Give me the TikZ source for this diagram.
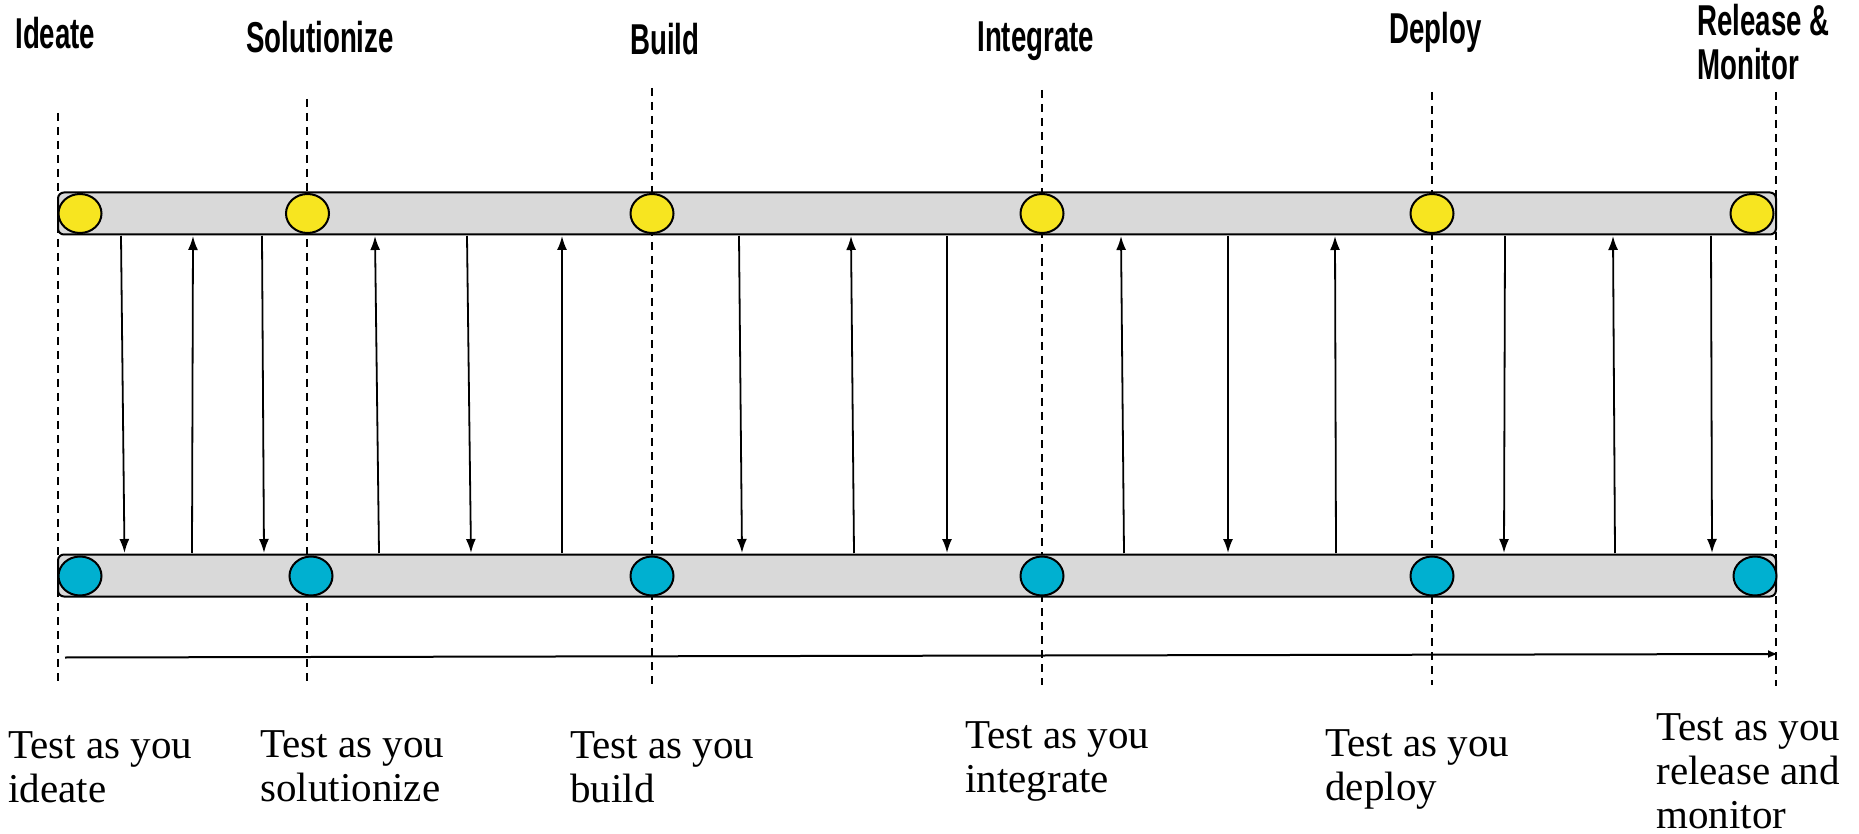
\documentclass[tikz,border=0pt]{standalone}
\usepackage{fontspec}
\usepackage{tikz}
\usetikzlibrary{arrows.meta,shapes.geometric}

\setmainfont{Liberation Serif}
\newfontfamily\phasefont[FakeStretch=0.64]{Liberation Sans}

\definecolor{ideayellow}{HTML}{F7E520}
\definecolor{testblue}{HTML}{00B0D0}
\definecolor{lanegray}{HTML}{D9D9D9}

\tikzset{
	phase/.style={font=\phasefont\bfseries\fontsize{21.6}{22}\selectfont,
		anchor=base west, inner sep=0pt, align=left},
	testnote/.style={font=\fontsize{20.5}{22}\selectfont,
		anchor=base west, inner sep=0pt, align=left},
	lane/.style={draw, line width=1pt, fill=lanegray, rounded corners=3pt,
		minimum width=859pt, minimum height=21pt, inner sep=0pt},
	gate/.style={ellipse, draw, line width=1pt, minimum width=21.5pt,
		minimum height=19.5pt, inner sep=0pt},
	milestone/.style={line width=0.7pt, dash pattern=on 4pt off 3pt},
	handoff/.style={line width=0.9pt, -{Latex[length=7pt,width=5pt]}}
}

\begin{document}
\begin{tikzpicture}[x=0.5pt,y=-0.5pt]
		\useasboundingbox (0,0) rectangle (1859,834);

		% phase boundaries
		\foreach \x / \top / \bot in
		{58/113/682, 307/99/684, 652/88/685, 1042/90/685, 1432/92/685, 1776/92/686}
			\draw[milestone] (\x,\top) -- (\x,\bot);

		\node[lane] (idealane) at (917,213.5) {};
		\node[lane] (testlane) at (917,575.5) {};

		\foreach \n / \xt / \xb in
		{1/80/80, 2/307.5/311, 3/652/652, 4/1042/1042, 5/1432/1432, 6/1752/1755}
		{
			\node[gate, fill=ideayellow] (idea\n) at (\xt,213.5) {};
			\node[gate, fill=testblue] (test\n) at (\xb,576) {};
		}

		% feedback between the two lanes
		\foreach \xt / \xb [count=\i] in
		{121/124.5, 193/192, 262/264, 375/379, 467/471, 562/562, 739/742,
		851/854, 947/947, 1121/1124, 1228/1228, 1335/1336, 1505/1504,
		1613/1615, 1711/1712}
		{
			\coordinate (up\i) at (\xt,236);
			\coordinate (dn\i) at (\xb,553);
			\ifodd\i
				\draw[handoff] (up\i) -- (dn\i);
			\else
				\draw[handoff] (dn\i) -- (up\i);
			\fi
		}

		\coordinate (start) at (65,657.5);
		\coordinate (finish) at (1778,654);
		\draw[line width=1pt, -{Latex[length=5pt,width=4pt]}] (start) -- (finish);

		% base anchor sits on the last line
		\node[phase] (ideate) at (15,49) {Ideate};
		\node[phase] (solutionize) at (246,53) {Solutionize};
		\node[phase] (build) at (630,55) {Build};
		\node[phase] (integrate) at (977,52) {Integrate};
		\node[phase] (deploy) at (1389,44) {Deploy};
		\node[phase] (release) at (1697,80) {Release \&\\Monitor};

		\node[testnote] (test-ideate) at (8,802) {Test as you\\ideate};
		\node[testnote] (test-solutionize) at (260,801) {Test as you\\solutionize};
		\node[testnote] (test-build) at (570,802) {Test as you\\build};
		\node[testnote] (test-integrate) at (965,792) {Test as you\\integrate};
		\node[testnote] (test-deploy) at (1325,800) {Test as you\\deploy};
		\node[testnote] (test-release) at (1656,828) {Test as you\\release and\\monitor};
	\end{tikzpicture}
\end{document}
